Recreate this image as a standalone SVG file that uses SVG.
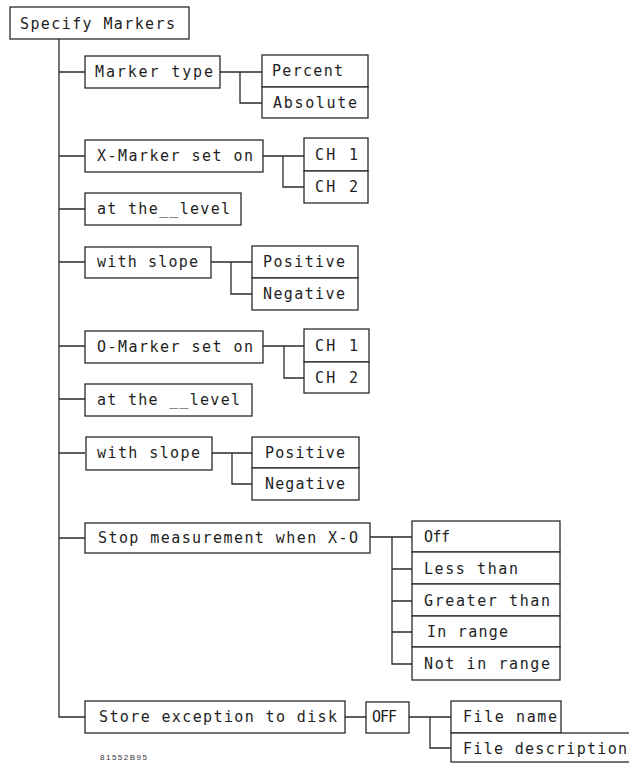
<svg xmlns="http://www.w3.org/2000/svg" width="629" height="764" viewBox="0 0 629 764">
<style>
.box{fill:#fff;stroke:#2a2a2a;stroke-width:1.3}
.c{fill:none;stroke:#2a2a2a;stroke-width:1.3}
.t{font-family:"DejaVu Sans Mono","Liberation Mono",monospace;font-size:15px;fill:#1e1e1e}
.s{font-family:"Liberation Sans",Arial,sans-serif;font-size:8px;fill:#333}
</style>
<rect width="629" height="764" fill="#fff"/>
<g id="connectors">
<path class="c" d="M59 39V717H85M59 72H85M59 156H85M59 209H85M59 262H85M59 346H85M59 399H85M59 453H85M59 538H85"/>
<path class="c" d="M220 72H262M240 72V103H262"/>
<path class="c" d="M263 156H304M283 156V187H304"/>
<path class="c" d="M211 262H252M231 262V294H252"/>
<path class="c" d="M263 346H304M284 346V378H304"/>
<path class="c" d="M212 453H252M232 453V484H252"/>
<path class="c" d="M370 537H412M392 537V664H412M392 569H412M392 601H412M392 632H412"/>
<path class="c" d="M345 717H366M409 717H451M430 717V748H451"/>
</g>
<g id="specify"><rect class="box" x="10" y="7" width="179" height="32"/><text class="t" x="20" y="29" textLength="155" lengthAdjust="spacing">Specify Markers</text></g>
<g id="markertype"><rect class="box" x="85" y="56" width="135" height="32"/><text class="t" x="95" y="77" textLength="118" lengthAdjust="spacing">Marker type</text></g>
<g id="percent"><rect class="box" x="262" y="55" width="106" height="32"/><text class="t" x="272" y="76" textLength="71" lengthAdjust="spacing">Percent</text></g>
<g id="absolute"><rect class="box" x="262" y="87" width="106" height="31"/><text class="t" x="273" y="108" textLength="84" lengthAdjust="spacing">Absolute</text></g>
<g id="xmarker"><rect class="box" x="85" y="140" width="178" height="32"/><text class="t" x="97" y="161" textLength="156" lengthAdjust="spacing">X-Marker set on</text></g>
<g id="xch1"><rect class="box" x="304" y="138" width="64" height="33"/><text class="t" x="315" y="160" textLength="43" lengthAdjust="spacing">CH 1</text></g>
<g id="xch2"><rect class="box" x="304" y="171" width="64" height="32"/><text class="t" x="315" y="192" textLength="43" lengthAdjust="spacing">CH 2</text></g>
<g id="xlevel"><rect class="box" x="85" y="193" width="156" height="32"/><text class="t" x="97" y="214" textLength="133" lengthAdjust="spacing">at the__level</text></g>
<g id="xslope"><rect class="box" x="85" y="247" width="126" height="31"/><text class="t" x="97" y="267" textLength="101" lengthAdjust="spacing">with slope</text></g>
<g id="xpos"><rect class="box" x="252" y="246" width="106" height="32"/><text class="t" x="263" y="267" textLength="82" lengthAdjust="spacing">Positive</text></g>
<g id="xneg"><rect class="box" x="252" y="278" width="106" height="32"/><text class="t" x="263" y="299" textLength="82" lengthAdjust="spacing">Negative</text></g>
<g id="omarker"><rect class="box" x="85" y="331" width="178" height="32"/><text class="t" x="97" y="352" textLength="156" lengthAdjust="spacing">O-Marker set on</text></g>
<g id="och1"><rect class="box" x="304" y="329" width="65" height="33"/><text class="t" x="315" y="351" textLength="43" lengthAdjust="spacing">CH 1</text></g>
<g id="och2"><rect class="box" x="304" y="362" width="65" height="31"/><text class="t" x="315" y="383" textLength="43" lengthAdjust="spacing">CH 2</text></g>
<g id="olevel"><rect class="box" x="85" y="384" width="167" height="32"/><text class="t" x="97" y="405" textLength="143" lengthAdjust="spacing">at the __level</text></g>
<g id="oslope"><rect class="box" x="86" y="437" width="126" height="33"/><text class="t" x="97" y="458" textLength="103" lengthAdjust="spacing">with slope</text></g>
<g id="opos"><rect class="box" x="252" y="437" width="107" height="31"/><text class="t" x="265" y="458" textLength="80" lengthAdjust="spacing">Positive</text></g>
<g id="oneg"><rect class="box" x="252" y="468" width="107" height="32"/><text class="t" x="265" y="489" textLength="80" lengthAdjust="spacing">Negative</text></g>
<g id="stop"><rect class="box" x="85" y="523" width="285" height="30"/><text class="t" x="98" y="543" textLength="260" lengthAdjust="spacing">Stop measurement when X-O</text></g>
<g id="off"><rect class="box" x="412" y="521" width="148" height="31"/><text class="t" x="424" y="542" textLength="26" lengthAdjust="spacing">Off</text></g>
<g id="less"><rect class="box" x="412" y="552" width="148" height="32"/><text class="t" x="424" y="574" textLength="94" lengthAdjust="spacing">Less than</text></g>
<g id="greater"><rect class="box" x="412" y="584" width="148" height="32"/><text class="t" x="424" y="606" textLength="126" lengthAdjust="spacing">Greater than</text></g>
<g id="inrange"><rect class="box" x="412" y="616" width="148" height="31"/><text class="t" x="427" y="637" textLength="81" lengthAdjust="spacing">In range</text></g>
<g id="notinrange"><rect class="box" x="412" y="647" width="148" height="33"/><text class="t" x="424" y="669" textLength="126" lengthAdjust="spacing">Not in range</text></g>
<g id="store"><rect class="box" x="85" y="701" width="260" height="32"/><text class="t" x="99" y="722" textLength="238" lengthAdjust="spacing">Store exception to disk</text></g>
<g id="offbox"><rect class="box" x="366" y="702" width="43" height="31"/><text class="t" x="372" y="722" textLength="25" lengthAdjust="spacing">OFF</text></g>
<g id="filename"><rect class="box" x="451" y="701" width="110" height="32"/><text class="t" x="463" y="722" textLength="94" lengthAdjust="spacing">File name</text></g>
<g id="filedesc"><rect class="box" x="451" y="733" width="200" height="29"/><text class="t" x="463" y="754" textLength="164" lengthAdjust="spacing">File description</text></g>
<text class="s" x="100" y="760" textLength="47" lengthAdjust="spacing">81552B95</text>
</svg>
